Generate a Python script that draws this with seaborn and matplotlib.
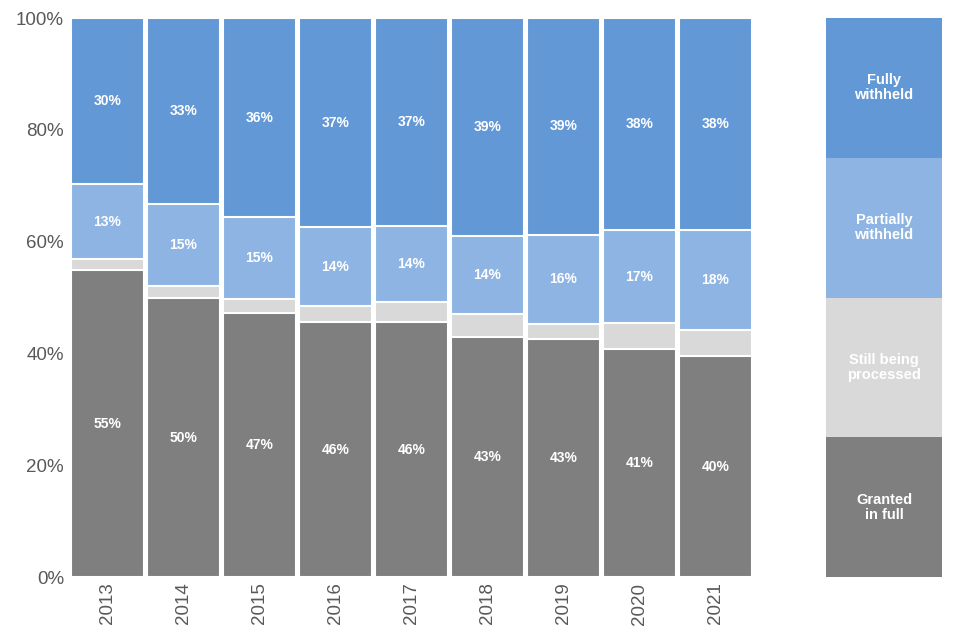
import matplotlib
matplotlib.use("Agg")
import matplotlib.pyplot as plt
import seaborn as sns
import numpy as np
import pandas as pd

years = ["2013", "2014", "2015", "2016", "2017", "2018", "2019", "2020", "2021"]
granted = [54.9, 49.9, 47.2, 45.6, 45.6, 42.9, 42.6, 40.8, 39.5]
processing = [2.0, 2.2, 2.5, 2.9, 3.6, 4.1, 2.7, 4.6, 4.7]
partial = [13.4, 14.6, 14.7, 14.1, 13.6, 14.0, 15.9, 16.7, 17.9]
fully = [29.7, 33.3, 35.6, 37.4, 37.2, 39.0, 38.8, 37.9, 37.9]

series_names = ["Granted\nin full", "Still being\nprocessed", "Partially\nwithheld", "Fully\nwithheld"]
colors = ["#7f7f7f", "#d9d9d9", "#8db4e2", "#6298d6"]
show_label = [True, False, True, True]

sns.set_theme(style="white")
plt.rcParams["font.family"] = ["Liberation Sans", "DejaVu Sans"]

fig = plt.figure(figsize=(9.6, 6.4), dpi=100)
ax = fig.add_axes([0.0724, 0.0984, 0.7125, 0.8734])

series = [granted, processing, partial, fully]
cum = np.zeros(len(years))
cums = []
for s in series:
    cum = cum + np.array(s)
    cums.append(cum.copy())

# draw from top (largest cumulative) down
for i in range(len(series) - 1, -1, -1):
    d = pd.DataFrame({"year": years, "val": cums[i]})
    sns.barplot(data=d, x="year", y="val", color=colors[i], saturation=1,
                width=0.96, edgecolor="white", linewidth=1.5, ax=ax, errorbar=None)

for i, s in enumerate(series):
    if not show_label[i]:
        continue
    for j, v in enumerate(s):
        mid = cums[i][j] - v / 2
        ax.text(j, mid, f"{round(v):.0f}%", ha="center", va="center",
                color="white", fontsize=10, fontweight="bold")

ax.set_ylim(0, 100)
ax.set_xlim(-0.5, len(years) - 0.5)
ax.set_yticks([0, 20, 40, 60, 80, 100])
ax.set_yticklabels([f"{t}%" for t in [0, 20, 40, 60, 80, 100]], fontsize=13.5, color="#595959")
ax.set_xticks(range(len(years)))
ax.set_xticklabels(years, rotation=90, fontsize=13.5, color="#595959")
ax.tick_params(axis="both", length=0, pad=4)
ax.set_xlabel("")
ax.set_ylabel("")
sns.despine(ax=ax, left=True, bottom=True)

# legend as a stacked bar
lax = fig.add_axes([0.8604, 0.0984, 0.1208, 0.8734])
for i in range(len(series_names) - 1, -1, -1):
    d = pd.DataFrame({"k": ["legend"], "val": [(i + 1) * 25]})
    sns.barplot(data=d, x="k", y="val", color=colors[i], saturation=1,
                width=1.0, linewidth=0, ax=lax, errorbar=None)
    lax.text(0, i * 25 + 12.5, series_names[i], ha="center", va="center",
             color="white", fontsize=10.5, fontweight="bold", linespacing=1.1)
lax.set_ylim(0, 100)
lax.set_xlim(-0.5, 0.5)
lax.axis("off")

fig.savefig("out.png", dpi=100)
